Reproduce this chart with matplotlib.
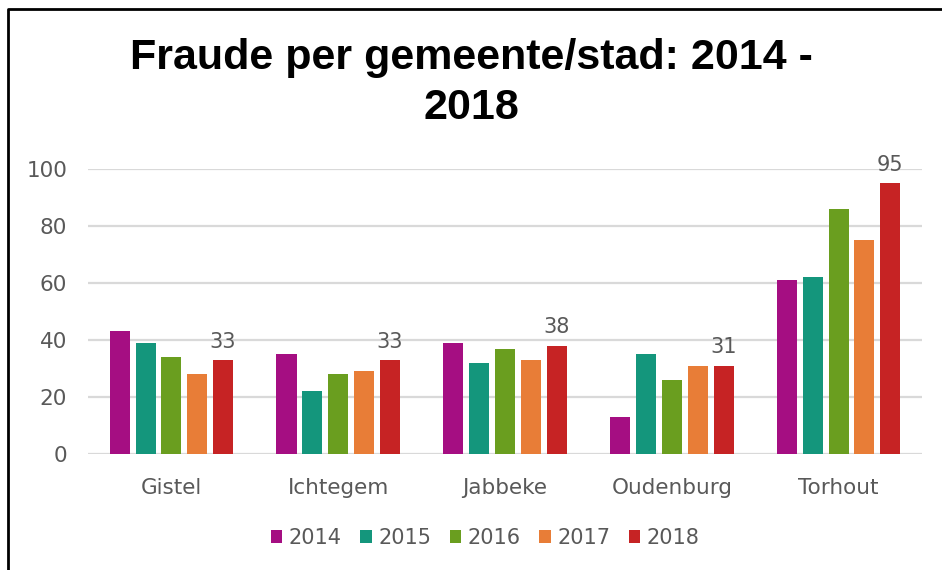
import numpy as np
import matplotlib.pyplot as plt
from matplotlib.lines import Line2D

gemeenten = ['Gistel', 'Ichtegem', 'Jabbeke', 'Oudenburg', 'Torhout']
jaren = ['2014', '2015', '2016', '2017', '2018']
v2014 = [43, 35, 39, 13, 61]
v2015 = [39, 22, 32, 35, 62]
v2016 = [34, 28, 37, 26, 86]
v2017 = [28, 29, 33, 31, 75]
v2018 = [33, 33, 38, 31, 95]
reeksen = [v2014, v2015, v2016, v2017, v2018]
kleuren = ['#A50E82', '#14967C', '#6A9E1F', '#E87D37', '#C62324']

plt.rcParams['font.family'] = ['DejaVu Sans']
grijs = '#595959'

fig = plt.figure(figsize=(9.42, 5.70), dpi=100)
ax = fig.add_axes([88/942, 1-454/570, (922-88)/942, (454-169)/570])

x = np.arange(len(gemeenten))
breedte = 0.12
stap = 0.155
for i, (jaar, vals, kl) in enumerate(zip(jaren, reeksen, kleuren)):
    bars = ax.bar(x + (i - 2) * stap, vals, breedte, color=kl, label=jaar, zorder=3)
    if jaar == '2018':
        ax.bar_label(bars, padding=6, fontsize=15, color=grijs)

ax.set_xlim(-0.5, 4.5)
ax.set_ylim(0, 100)
ax.set_yticks(range(0, 101, 20))
ax.set_xticks(x)
ax.set_xticklabels(gemeenten)
ax.grid(axis='y', color='#d9d9d9', linewidth=1.6, zorder=0)
for s in ax.spines.values():
    s.set_visible(False)
ax.tick_params(length=0, labelsize=15.5, labelcolor=grijs)
ax.tick_params(axis='y', pad=15)
ax.tick_params(axis='x', pad=17)

fig.text(0.5, 1-83/570, 'Fraude per gemeente/stad: 2014 -\n2018', ha='center', va='center',
         fontsize=31, fontweight='bold', family='Liberation Sans', linespacing=1.3)

fig.legend(loc='center', bbox_to_anchor=(0.515, 1-538/570), ncol=5, frameon=False,
           fontsize=15, labelcolor=grijs, handlelength=0.55, handleheight=0.55,
           handletextpad=0.3, columnspacing=0.9)

fig.add_artist(Line2D([8/942, 8/942, 1], [0, 1-9/570, 1-9/570], transform=fig.transFigure,
                      color='black', linewidth=2))

fig.savefig('out.png', dpi=100)
